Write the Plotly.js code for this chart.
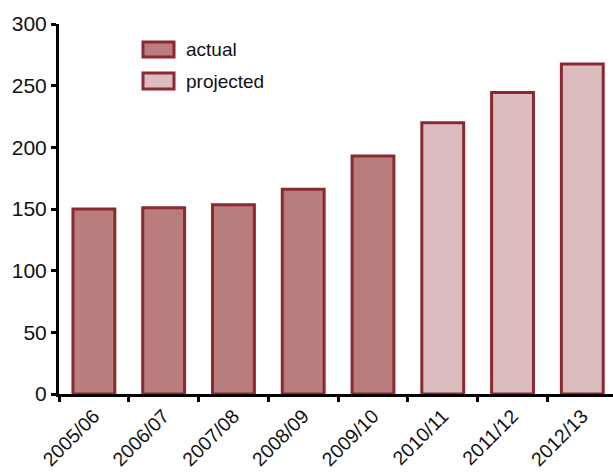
<!DOCTYPE html>
<html>
<head>
<meta charset="utf-8">
<script src="https://cdn.plot.ly/plotly-3.0.1.min.js"></script>
<style>html,body{margin:0;padding:0;background:#fff}#chart{width:613px;height:473px}</style>
</head>
<body>
<div id="chart"></div>
<script>
const categories = ["2005/06","2006/07","2007/08","2008/09","2009/10","2010/11","2011/12","2012/13"];
const actualCats = ["2005/06","2006/07","2007/08","2008/09","2009/10"];
const actualValues = [150, 151, 153.5, 166, 193];
const projectedCats = ["2010/11","2011/12","2012/13"];
const projectedValues = [220, 244.5, 267.5];
const yTicks = [0, 50, 100, 150, 200, 250, 300];

const outline = "#8c2830";
const actualFill = "#b97d7e";
const projFill = "#dcbdbf";
const font = "Liberation Sans, Arial, sans-serif";

const traces = [
  {type:"bar", name:"actual", x:actualCats, y:actualValues, width:0.6,
   marker:{color:actualFill, line:{color:outline, width:3}}, showlegend:false, hoverinfo:"x+y"},
  {type:"bar", name:"projected", x:projectedCats, y:projectedValues, width:0.6,
   marker:{color:projFill, line:{color:outline, width:3}}, showlegend:false, hoverinfo:"x+y"}
];

const px = v => (v - 59) / 554;
const py = v => (394 - v) / 370;

const layout = {
  width:613, height:473,
  margin:{l:59, r:0, t:24, b:79, pad:0},
  paper_bgcolor:"#fff", plot_bgcolor:"#fff",
  barmode:"overlay",
  font:{family:font, size:21, color:"#111"},
  xaxis:{type:"category", categoryorder:"array", categoryarray:categories,
    range:[-0.5, 7.44], tickangle:-45, tickson:"boundaries",
    ticks:"outside", ticklen:5, tickwidth:3, tickcolor:"#000",
    showline:true, linecolor:"#000", linewidth:3, showgrid:false, zeroline:false,
    tickfont:{family:font, size:19.5, color:"#111"}},
  yaxis:{range:[0,300], tickvals:yTicks, ticks:"outside", ticklen:5, tickwidth:3, tickcolor:"#000",
    showline:true, linecolor:"#000", linewidth:3, showgrid:false, zeroline:false,
    tickfont:{family:font, size:21, color:"#111"}},
  shapes:[
    {type:"rect", xref:"paper", yref:"paper", x0:px(143), x1:px(174), y0:py(57), y1:py(42),
     fillcolor:actualFill, line:{color:outline, width:3}},
    {type:"rect", xref:"paper", yref:"paper", x0:px(143), x1:px(174), y0:py(89), y1:py(73),
     fillcolor:projFill, line:{color:outline, width:3}}
  ],
  annotations:[
    {xref:"paper", yref:"paper", x:px(184), y:py(49.5), xanchor:"left", yanchor:"middle",
     text:"actual", showarrow:false, font:{family:"Liberation Sans Narrow, Liberation Sans, sans-serif", size:19, color:"#111"}},
    {xref:"paper", yref:"paper", x:px(184), y:py(81), xanchor:"left", yanchor:"middle",
     text:"projected", showarrow:false, font:{family:"Liberation Sans Narrow, Liberation Sans, sans-serif", size:19, color:"#111"}}
  ]
};

Plotly.newPlot("chart", traces, layout, {displayModeBar:false, staticPlot:true});
</script>
</body>
</html>
